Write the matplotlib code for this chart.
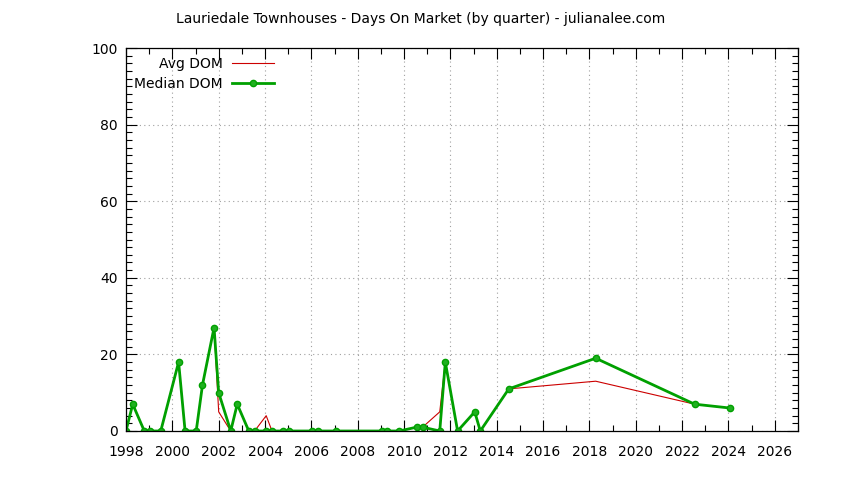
import matplotlib
matplotlib.use("Agg")
import matplotlib.pyplot as plt
from matplotlib.ticker import MultipleLocator

# quarter dates (decimal year) and days on market
dates = [1998.0, 1998.29, 1998.79, 1999.05, 1999.5, 2000.27, 2000.55, 2001.03,
         2001.3, 2001.8, 2002.0, 2002.52, 2002.8, 2003.3, 2003.55, 2004.05,
         2004.3, 2004.77, 2005.03, 2006.03, 2006.27, 2007.05, 2009.04, 2009.28,
         2009.79, 2010.54, 2010.8, 2011.54, 2011.78, 2012.31, 2013.05, 2013.29,
         2014.52, 2018.27, 2022.54, 2024.06]
avg_dom = [0, 7, 0, 0, 0, 18, 0, 0,
           12, 27, 5, 0, 7, 0, 0, 4,
           0, 0, 0, 0, 0, 0, 0, 0,
           0, 1, 1, 5, 18, 0, 5, 0,
           11, 13, 7, 6]
median_dom = [0, 7, 0, 0, 0, 18, 0, 0,
              12, 27, 10, 0, 7, 0, 0, 0,
              0, 0, 0, 0, 0, 0, 0, 0,
              0, 1, 1, 0, 18, 0, 5, 0,
              11, 19, 7, 6]

title = "Lauriedale Townhouses - Days On Market (by quarter) - julianalee.com"

plt.rcParams['font.family'] = 'DejaVu Sans'
fig = plt.figure(figsize=(8.44, 4.80), dpi=100)
ax = fig.add_axes([126/844, 1 - 431/480, (798 - 126)/844, (431 - 48)/480])

ax.plot(dates, avg_dom, color='#cc0000', linewidth=0.8, label='Avg DOM')
ax.plot(dates, median_dom, color='#00a000', linewidth=2, marker='o',
        markersize=4.5, markerfacecolor='#20b020', markeredgecolor='#00a000',
        label='Median DOM')

ax.set_xlim(1998, 2027)
ax.set_ylim(0, 100)
ax.xaxis.set_major_locator(MultipleLocator(2))
ax.xaxis.set_minor_locator(MultipleLocator(1))
ax.yaxis.set_major_locator(MultipleLocator(20))
ax.yaxis.set_minor_locator(MultipleLocator(2))
ax.tick_params(which='both', direction='in', top=True, right=True, labelsize=10, width=0.8)
ax.tick_params(which='major', length=8)
ax.tick_params(which='minor', length=4)
ax.tick_params(axis='x', which='major', pad=10)
ax.tick_params(axis='y', which='major', pad=6)
ax.grid(True, which='major', linestyle=(0, (1, 3)), color='#a0a0a0', linewidth=0.8)
for s in ax.spines.values():
    s.set_linewidth(0.9)

fig.text(421/844, 1 - 19/480, title, ha='center', va='center', fontsize=10)

leg = ax.legend(loc='upper right', bbox_to_anchor=(274/844, 1 - 57/480),
                bbox_transform=fig.transFigure, frameon=False,
                markerfirst=False, fontsize=10, handlelength=3.0,
                borderaxespad=0, borderpad=0, labelspacing=0.45, handletextpad=0.7)
for t in leg.get_texts():
    t.set_ha('right')

fig.savefig('out.png', dpi=100)
